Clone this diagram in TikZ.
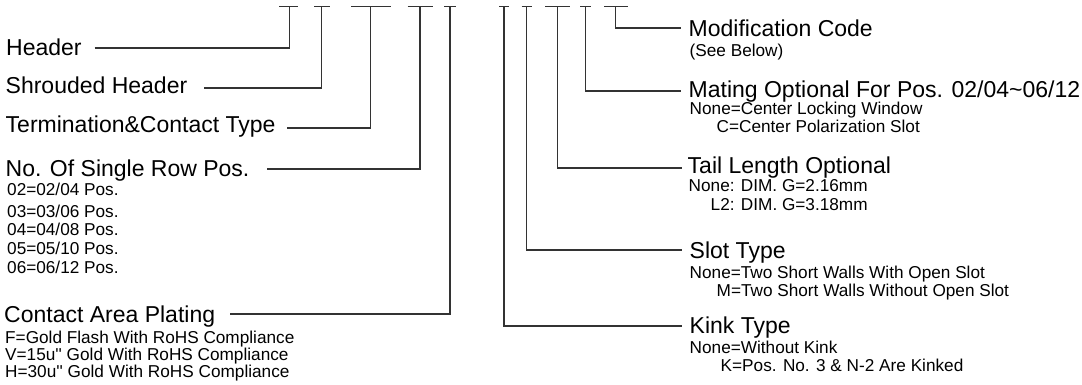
\documentclass[tikz,border=0pt]{standalone}
\usepackage{fontspec}
\setmainfont{Liberation Sans}[Ligatures=TeXOff]
\begin{document}
\begin{tikzpicture}[x=1pt,y=-1pt,
  ln/.style={draw=black!80, line width=1.1pt},
  big/.style={anchor=base west, inner sep=0pt, font=\fontsize{23}{27}\selectfont},
  small/.style={anchor=base west, inner sep=0pt, font=\fontsize{17.2}{20}\selectfont}]
\useasboundingbox (0,0) rectangle (1082,385);
% top bars (character placeholders)
\coordinate (b1) at (289.3,6.7);
\coordinate (b2) at (321.7,6.7);
\coordinate (b3) at (370.7,6.7);
\coordinate (b4) at (420,6.7);
\coordinate (b5) at (450,6.7);
\coordinate (b6) at (504,6.7);
\coordinate (b7) at (526.7,6.7);
\coordinate (b8) at (557.3,6.7);
\coordinate (b9) at (585.3,6.7);
\coordinate (b10) at (615.3,6.7);
\draw[ln] (279.3,6.7) -- (298.3,6.7);
\draw[ln] (314.3,6.7) -- (330,6.7);
\draw[ln] (351,6.7) -- (390.7,6.7);
\draw[ln] (407.7,6.7) -- (432.7,6.7);
\draw[ln] (444,6.7) -- (455.7,6.7);
\draw[ln] (499.3,6.7) -- (509.3,6.7);
\draw[ln] (521.7,6.7) -- (532.3,6.7);
\draw[ln] (545,6.7) -- (570,6.7);
\draw[ln] (580,6.7) -- (591,6.7);
\draw[ln] (604,6.7) -- (627.7,6.7);

% left labels
\node[big] (hdr) at (6,56) {Header};
\node[big] (shr) at (5.5,94) {Shrouded Header};
\node[big] (ter) at (5.5,133) {Termination\&Contact Type};
\node[big] (nos) at (5.5,177) {No. Of Single Row Pos.};
\node[small] (p02) at (7,195) {02=02/04 Pos.};
\node[small] (p03) at (7,217) {03=03/06 Pos.};
\node[small] (p04) at (7,235) {04=04/08 Pos.};
\node[small] (p05) at (7,254) {05=05/10 Pos.};
\node[small] (p06) at (7,273) {06=06/12 Pos.};
\node[big] (cap) at (4,322) {Contact Area Plating};
\node[small] (pf) at (5,343) {F=Gold Flash With RoHS Compliance};
\node[small] (pv) at (5,360) {V=15u'' Gold With RoHS Compliance};
\node[small] (ph) at (5,377) {H=30u'' Gold With RoHS Compliance};

\coordinate (hdrL) at (94.7,48);
\coordinate (shrL) at (204,88);
\coordinate (terL) at (287,128);
\coordinate (nosL) at (267,169);
\coordinate (capL) at (230,314);
\draw[ln] (hdrL) -| (b1);
\draw[ln] (shrL) -| (b2);
\draw[ln] (terL) -| (b3);
\draw[ln] (nosL) -| (b4);
\draw[ln] (capL) -| (b5);

% right labels
\node[big] (mod) at (688.5,36.5) {Modification Code};
\node[small] (see) at (689.5,57) {(See Below)};
\node[big] (mat) at (688.5,98) {Mating Optional For Pos. 02/04\textasciitilde06/12};
\node[small] (mn) at (689.5,115) {None=Center Locking Window};
\node[small] (mc) at (716.5,133) {C=Center Polarization Slot};
\node[big] (tail) at (687.5,174) {Tail Length Optional};
\node[small] (tn) at (688.5,192) {None: DIM. G=2.16mm};
\node[small] (tl) at (710.5,211) {L2: DIM. G=3.18mm};
\node[big] (slot) at (689.5,258) {Slot Type};
\node[small] (sn) at (689.5,278) {None=Two Short Walls With Open Slot};
\node[small] (sm) at (716.5,296) {M=Two Short Walls Without Open Slot};
\node[big] (kink) at (689.5,333) {Kink Type};
\node[small] (kn) at (689.5,353) {None=Without Kink};
\node[small] (kk) at (720.5,371) {K=Pos. No. 3 \& N-2 Are Kinked};

\coordinate (modR) at (681,28);
\coordinate (matR) at (681,91);
\coordinate (tailR) at (681.7,168);
\coordinate (slotR) at (681.7,250);
\coordinate (kinkR) at (681.7,326);
\draw[ln] (b10) |- (modR);
\draw[ln] (b9) |- (matR);
\draw[ln] (b8) |- (tailR);
\draw[ln] (b7) |- (slotR);
\draw[ln] (b6) |- (kinkR);
\end{tikzpicture}
\end{document}
